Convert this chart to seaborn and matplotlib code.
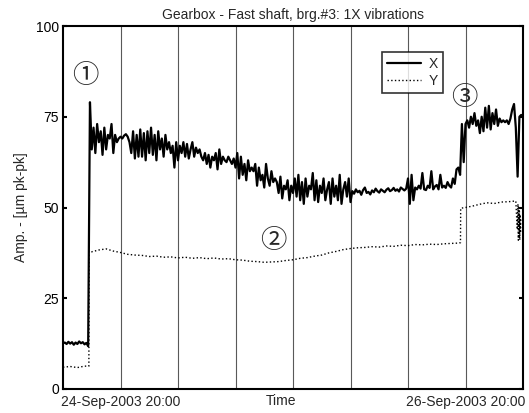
import numpy as np
import matplotlib
matplotlib.use("Agg")
import matplotlib.pyplot as plt
import seaborn as sns
from matplotlib.lines import Line2D

# ---- data (hours since 24-Sep-2003 12:00) ----
x_step_h = 0.25
x_vals = [
    # 0 .. 3.5 h  (before start-up)
    12.6, 12.8, 12.4, 13.0, 12.5, 12.9, 12.2, 12.8, 12.4, 13.1, 12.6, 12.9, 12.3, 12.7, 11.8,
    # peak
    79.0,
    # 4.0 .. 7.75
    66, 72, 65, 73, 68, 71, 64.5, 72, 66, 70, 69, 73, 65, 70, 68, 69,
    # 8.0 .. 9.0
    69.5, 69.0, 69.8, 70.2, 69.5,
    # 9.25 .. 15.0
    68, 65, 71, 63.5, 70, 64, 71.5, 64, 70.5, 63, 71, 65, 72, 64.5, 70, 63, 71, 66, 69, 64, 70, 66, 68, 65,
    # 15.25 .. 16.0
    67, 61, 68, 63,
    # 16.25 .. 19.0
    67, 65, 68, 64, 67.5, 63.5, 66, 68, 64, 66.5, 65, 66,
    # 19.25 .. 24.0
    64, 63, 65, 62, 64.5, 61, 64, 63, 65, 60.5, 66, 62, 64, 63, 62.5, 64, 63, 62, 63.5, 61,
    # 24.25 .. 26.5
    65, 58, 64, 59, 62, 57.5, 63, 60, 61, 60,
    # 26.75 .. 29.5
    62, 56, 61, 57.5, 59, 55.5, 62, 58, 56, 60, 57, 58,
    # 29.75 .. 32.5
    57, 54, 58.5, 52.5, 56, 55, 57.5, 52, 56, 54, 58, 53,
    # 32.75 .. 40.0
    59, 52, 57, 51, 58, 53, 56, 55, 59.5, 52, 57.5, 51.5, 56, 54, 58, 52, 55, 57, 51, 58,
    53, 56, 52, 59, 51, 55, 57, 53, 58, 51.5,
    # 40.25 .. 47.75
    54.5, 53.8, 55, 54.2, 54.6, 53.5, 54.8, 55.5, 54, 54.3, 53.6, 54.7, 54.2, 55.2, 54.5, 54.1,
    55, 54.6, 54.2, 54.9, 55.3, 54.5, 54.8, 55.4, 54.6, 55, 54.4, 55.5, 55.1, 54.7, 55.2,
    # 48.0 .. 55.0
    58, 51, 59, 52, 55.5, 55, 56, 55.2, 59.5, 55, 54.8, 56, 55.4, 60, 55, 55.8, 56.2, 55, 59,
    55.5, 56, 55.4, 57, 56, 55.5, 58, 56.5, 60.5, 61,
    # 55.25 .. 56.0
    59, 73, 62.5, 73,
    # 56.25 .. 61.25
    74, 72, 75, 73, 76, 72.5, 74, 70.5, 75, 71, 77.5, 72, 78, 71.5, 76, 73, 77, 72.5, 74.5, 73.5, 74,
    # 61.5 .. 63.75
    73.5, 74, 73, 74.5, 77, 78.5, 72, 58.5, 75, 75.5,
]

y_hours = [0, 1, 2, 3, 3.6, 3.63, 4, 5, 6, 7, 8, 9, 10, 11, 12, 13, 14, 15, 16, 17, 18, 19, 20,
           21, 22, 23, 24, 25, 26, 27, 28, 29, 30, 31, 32, 33, 34, 35, 36, 37, 38, 39, 40, 41,
           42, 43, 44, 45, 46, 47, 48, 49, 50, 51, 52, 53, 54, 55, 55.3, 55.33, 56, 57, 58, 59,
           60, 61, 62, 63, 63.2, 63.3, 63.35, 63.4, 63.45, 63.5, 63.55, 63.6, 63.65, 63.7]
y_vals = [6.0, 6.2, 5.9, 6.3, 6.3, 38.0, 37.8, 38.3, 38.6, 38.0, 37.6, 37.1, 36.9, 36.8, 36.5,
          36.6, 36.3, 36.4, 36.1, 36.3, 36.0, 36.2, 35.9, 36.1, 35.8, 35.9, 35.6, 35.5, 35.2,
          35.1, 34.9, 35.0, 35.1, 35.4, 35.6, 36.0, 36.2, 36.6, 36.9, 37.5, 37.9, 38.4, 38.7,
          38.9, 39.0, 39.2, 39.1, 39.4, 39.3, 39.6, 39.5, 39.8, 39.7, 39.9, 39.8, 40.0, 40.1,
          40.2, 40.3, 49.8, 50.0, 50.4, 50.9, 51.3, 51.1, 51.5, 51.6, 51.8, 44, 51, 41, 50, 42,
          49, 41, 48, 43, 47]

tick_hours = [8, 16, 24, 32, 40, 48, 56]
tick_labels = ["24-Sep-2003 20:00", "", "", "", "", "", "26-Sep-2003 20:00"]
y_ticks = [0, 25, 50, 75, 100]
notes = [("\u2460", 3.1, 86.5), ("\u2461", 29.2, 40.8), ("\u2462", 55.9, 80.2)]

FS = 10

# ---- style ----
sns.set_style("white")
plt.rcParams["font.family"] = ["Liberation Sans", "DejaVu Sans"]

fig = plt.figure(figsize=(5.29, 4.13), dpi=100)
ax = fig.add_axes([63 / 529, 24 / 413, 460 / 529, 363 / 413])

x_hours = np.arange(len(x_vals)) * x_step_h
sns.lineplot(x=x_hours, y=x_vals, ax=ax, color="black", lw=1.6,
             estimator=None, sort=False)
sns.lineplot(x=y_hours, y=y_vals, ax=ax, color="black", lw=1.0, linestyle=":",
             estimator=None, sort=False)

ax.set_xlim(0, 64)
ax.set_ylim(0, 100)
ax.set_xticks(tick_hours)
ax.set_xticklabels(tick_labels, fontsize=FS)
ax.set_yticks(y_ticks)
ax.set_yticklabels([str(v) for v in y_ticks], fontsize=FS)
ax.grid(axis="x", color="0.35", lw=0.8)
ax.grid(axis="y", visible=False)
ax.tick_params(axis="x", length=0, pad=4)
ax.tick_params(axis="y", direction="in", length=3, width=1.5, left=True, right=True,
               pad=3, colors="black")
for s in ax.spines.values():
    s.set_visible(True)
    s.set_color("black")
    s.set_linewidth(1.5)

ax.set_xlabel("Time", fontsize=FS)
ax.xaxis.set_label_coords(0.474, -0.015)
ax.set_ylabel("Amp. - [\u00b5m pk-pk]", fontsize=FS)
ax.yaxis.set_label_coords(-0.075, 0.5)
ax.set_title("Gearbox - Fast shaft, brg.#3: 1X vibrations", fontsize=FS, pad=5)

for txt, hx, vy in notes:
    ax.text(hx, vy, txt, fontsize=19, ha="center", va="center",
            family=["Noto Sans CJK JP", "DejaVu Sans"])

handles = [Line2D([], [], color="black", lw=1.6),
           Line2D([], [], color="black", lw=1.0, linestyle=":")]
leg = ax.legend(handles, ["X", "Y"], loc="upper right", bbox_to_anchor=(0.826, 0.928),
                fontsize=FS, frameon=True, fancybox=False, handlelength=2.4,
                borderpad=0.35, labelspacing=0.2, handletextpad=0.6, borderaxespad=0)
leg.get_frame().set_edgecolor("black")
leg.get_frame().set_linewidth(1.2)

fig.savefig("out.png", dpi=100)
